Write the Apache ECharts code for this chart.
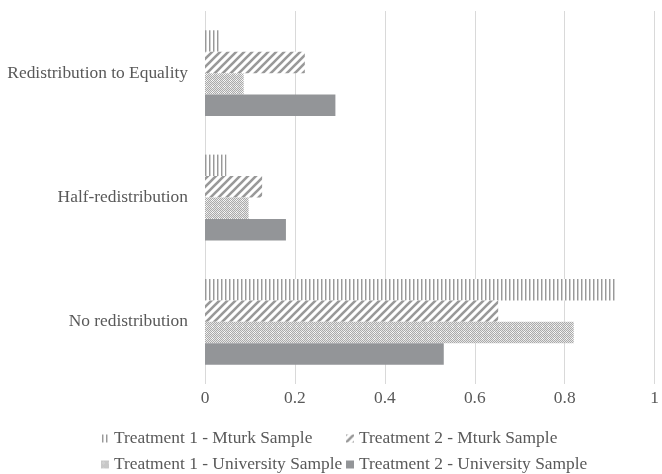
<!DOCTYPE html>
<html>
<head>
<meta charset="utf-8">
<script src="https://cdn.jsdelivr.net/npm/echarts@6/dist/echarts.min.js"></script>
<style>html,body{margin:0;padding:0;background:#fff;}#chart{width:662px;height:474px;}</style>
</head>
<body>
<div id="chart"></div>
<script>
var categories = ['No redistribution', 'Half-redistribution', 'Redistribution to Equality'];
var seriesNames = ['Treatment 1 - Mturk Sample', 'Treatment 2 - Mturk Sample', 'Treatment 1 - University Sample', 'Treatment 2 - University Sample'];
var t1Mturk = [0.916, 0.048, 0.031];
var t2Mturk = [0.652, 0.127, 0.222];
var t1Univ = [0.820, 0.097, 0.086];
var t2Univ = [0.531, 0.180, 0.290];
var xTicks = [0, 0.2, 0.4, 0.6, 0.8, 1];

function makeCanvas(w, h) { var c = document.createElement('canvas'); c.width = w; c.height = h; return c; }
function vertPattern() {
  var c = makeCanvas(4, 4), g = c.getContext('2d');
  g.fillStyle = '#fff'; g.fillRect(0, 0, 4, 4);
  g.fillStyle = '#999999'; g.fillRect(1, 0, 1, 4);
  g.fillStyle = '#d0d0d0'; g.fillRect(2, 0, 1, 4);
  return c;
}
function diagPattern() {
  var c = makeCanvas(8, 8), g = c.getContext('2d');
  g.fillStyle = '#fff'; g.fillRect(0, 0, 8, 8);
  g.strokeStyle = '#999999'; g.lineWidth = 2.6;
  g.beginPath();
  g.moveTo(0, 8); g.lineTo(8, 0);
  g.moveTo(-4, 4); g.lineTo(4, -4);
  g.moveTo(4, 12); g.lineTo(12, 4);
  g.stroke();
  return c;
}
function dotPattern() {
  var c = makeCanvas(6, 6), g = c.getContext('2d');
  g.fillStyle = '#e6e6e6'; g.fillRect(0, 0, 6, 6);
  g.fillStyle = '#aaaaaa';
  for (var y = 0; y < 6; y++) for (var x = 0; x < 6; x++) if ((x + y) % 2 === 0) g.fillRect(x, y, 1, 1);
  g.fillStyle = '#f8f8f8';
  g.fillRect(2, 1, 1, 1); g.fillRect(1, 2, 1, 1); g.fillRect(3, 2, 1, 1); g.fillRect(2, 3, 1, 1);
  return c;
}
var colors = [
  { image: vertPattern(), repeat: 'repeat' },
  { image: diagPattern(), repeat: 'repeat' },
  { image: dotPattern(), repeat: 'repeat' },
  '#939598'
];
var dataSets = [t1Mturk, t2Mturk, t1Univ, t2Univ];
var font = 'Liberation Serif';
var textColor = '#595959';
var fs = 17.4;

var chart = echarts.init(document.getElementById('chart'), null, { renderer: 'canvas' });
var series = seriesNames.map(function (n, i) {
  return {
    name: n, type: 'bar', data: dataSets[i],
    barGap: '0%', barCategoryGap: '31%',
    itemStyle: { color: colors[i] },
    emphasis: { disabled: true }
  };
});
function legendAt(name, left, top) {
  return {
    orient: 'horizontal', left: left, top: top, padding: 0,
    itemWidth: 8, itemHeight: 8, itemGap: 0,
    textStyle: { fontFamily: font, fontSize: fs, color: textColor },
    icon: 'rect', selectedMode: false,
    data: [name]
  };
}
chart.setOption({
  animation: false,
  color: colors,
  grid: { left: 205, right: 2, top: 11, bottom: 90, containLabel: false },
  xAxis: {
    type: 'value', min: 0, max: 1, interval: 0.2,
    axisLine: { show: false }, axisTick: { show: false },
    splitLine: { show: true, lineStyle: { color: '#d9d9d9', width: 1 } },
    axisLabel: { fontFamily: font, fontSize: fs, color: textColor, margin: 6,
      formatter: function (v) { return String(parseFloat(v.toFixed(1))); } }
  },
  yAxis: {
    type: 'category', data: categories,
    axisLine: { show: false }, axisTick: { show: false },
    axisLabel: { fontFamily: font, fontSize: fs, color: textColor, margin: 17 }
  },
  legend: [
    legendAt(seriesNames[0], 101, 430),
    legendAt(seriesNames[1], 346, 430),
    legendAt(seriesNames[2], 101, 456),
    legendAt(seriesNames[3], 346, 456)
  ],
  series: series
});
</script>
</body>
</html>
